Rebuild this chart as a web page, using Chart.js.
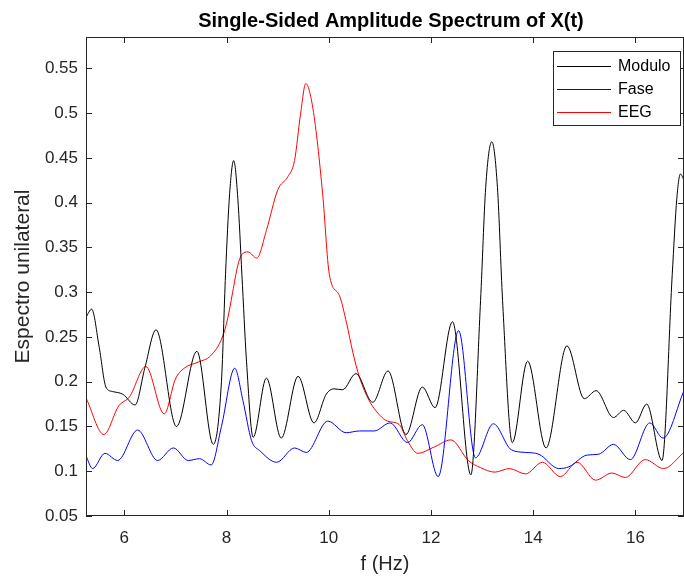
<!DOCTYPE html>
<html>
<head>
<meta charset="utf-8">
<script src="https://cdn.jsdelivr.net/npm/chart.js@4.4.1/dist/chart.umd.min.js"></script>
<style>
  body { margin: 0; background: #fff; }
  #wrap { width: 684px; height: 577px; }
</style>
</head>
<body>
<div id="wrap"><canvas id="spectrum" width="684" height="577"></canvas></div>
<script>
var xTicks = [6, 8, 10, 12, 14, 16];
var yTicks = [0.05, 0.1, 0.15, 0.2, 0.25, 0.3, 0.35, 0.4, 0.45, 0.5, 0.55];

// Modulo (black)
var moduloF = [5.25, 5.36, 5.51, 5.64, 5.77, 5.97, 6.21, 6.40, 6.62, 7.02, 7.42, 7.74, 7.90, 7.98, 8.06, 8.14,
  8.22, 8.30, 8.39, 8.52, 8.78, 9.07, 9.40, 9.71, 9.95, 10.10, 10.27, 10.53, 10.86, 11.16, 11.51, 11.83,
  12.08, 12.42, 12.78, 12.97, 13.07, 13.19, 13.30, 13.40, 13.59, 13.89, 14.25, 14.66, 15.00, 15.23, 15.57,
  15.77, 16.00, 16.22, 16.52, 16.72, 16.81, 16.88, 16.95];
var moduloA = [0.272, 0.281, 0.238, 0.194, 0.189, 0.186, 0.174, 0.215, 0.258, 0.150, 0.234, 0.130, 0.200, 0.320, 0.410, 0.447,
  0.405, 0.320, 0.223, 0.138, 0.204, 0.137, 0.206, 0.154, 0.186, 0.192, 0.191, 0.209, 0.177, 0.212, 0.141, 0.194,
  0.171, 0.267, 0.096, 0.291, 0.417, 0.468, 0.417, 0.291, 0.132, 0.223, 0.126, 0.240, 0.181, 0.190, 0.160,
  0.168, 0.154, 0.175, 0.112, 0.320, 0.405, 0.432, 0.425];

// Fase (blue)
var faseF = [5.25, 5.38, 5.62, 5.87, 6.26, 6.65, 6.96, 7.25, 7.47, 7.70, 7.90, 8.16, 8.32, 8.49, 8.65, 8.98,
  9.33, 9.56, 9.98, 10.34, 10.60, 10.89, 11.20, 11.54, 11.83, 12.14, 12.54, 12.87, 13.22, 13.57, 13.85,
  14.11, 14.50, 14.70, 15.05, 15.28, 15.57, 15.90, 16.28, 16.54, 16.95];
var faseA = [0.117, 0.103, 0.120, 0.112, 0.146, 0.112, 0.126, 0.112, 0.114, 0.107, 0.150, 0.215, 0.179, 0.134, 0.123, 0.110,
  0.126, 0.121, 0.156, 0.143, 0.145, 0.145, 0.154, 0.132, 0.152, 0.094, 0.257, 0.115, 0.153, 0.124, 0.121,
  0.119, 0.103, 0.105, 0.118, 0.119, 0.130, 0.113, 0.154, 0.137, 0.190];

// EEG (red)
var eegF = [5.25, 5.60, 5.89, 6.10, 6.42, 6.78, 7.00, 7.17, 7.45, 7.69, 7.92, 8.02, 8.12, 8.22, 8.30, 8.42,
  8.59, 8.78, 9.00, 9.20, 9.33, 9.45, 9.55, 9.69, 9.88, 10.01, 10.21, 10.35, 10.47, 10.60, 10.79, 10.99,
  11.15, 11.38, 11.54, 11.74, 12.06, 12.39, 12.73, 12.97, 13.25, 13.53, 13.85, 14.18, 14.53, 14.86, 15.22,
  15.54, 15.80, 16.19, 16.55, 16.95];
var eegA = [0.182, 0.141, 0.173, 0.183, 0.217, 0.164, 0.203, 0.215, 0.222, 0.229, 0.250, 0.270, 0.300, 0.330, 0.342, 0.345,
  0.338, 0.369, 0.414, 0.429, 0.447, 0.500, 0.533, 0.505, 0.410, 0.320, 0.296, 0.265, 0.233, 0.205, 0.179, 0.163,
  0.156, 0.152, 0.134, 0.120, 0.127, 0.135, 0.112, 0.104, 0.099, 0.103, 0.097, 0.110, 0.094, 0.110, 0.090,
  0.098, 0.093, 0.113, 0.103, 0.121];

var fontFamily = '"Liberation Sans", Arial, Helvetica, sans-serif';
var axisColor = '#262626';

var toPoints = function(f, a) {
  return f.map(function(v, i) { return {x: v, y: a[i]}; });
};

var makeSeries = function(label, f, a, color) {
  return {
    label: label,
    data: toPoints(f, a),
    borderColor: color,
    backgroundColor: color,
    borderWidth: 1,
    pointRadius: 0,
    fill: false,
    cubicInterpolationMode: 'monotone'
  };
};

// box, inward ticks, title and legend, MATLAB style
var axesFrame = {
  id: 'axesFrame',
  afterDatasetsDraw: function(chart) {
    var ctx = chart.ctx;
    var a = chart.chartArea;
    var xs = chart.scales.x;
    var ys = chart.scales.y;
    ctx.save();
    ctx.strokeStyle = axisColor;
    ctx.lineWidth = 1;
    ctx.strokeRect(a.left + 0.5, a.top + 0.5, a.right - a.left - 1, a.bottom - a.top - 1);
    ctx.beginPath();
    xTicks.forEach(function(v) {
      var px = Math.round(xs.getPixelForValue(v)) + 0.5;
      ctx.moveTo(px, a.bottom); ctx.lineTo(px, a.bottom - 6);
      ctx.moveTo(px, a.top); ctx.lineTo(px, a.top + 6);
    });
    yTicks.forEach(function(v) {
      var py = Math.round(ys.getPixelForValue(v)) + 0.5;
      ctx.moveTo(a.left, py); ctx.lineTo(a.left + 6, py);
      ctx.moveTo(a.right, py); ctx.lineTo(a.right - 6, py);
    });
    ctx.stroke();

    // title
    ctx.fillStyle = '#000';
    ctx.font = 'bold 20px ' + fontFamily;
    ctx.textAlign = 'center';
    ctx.textBaseline = 'alphabetic';
    ctx.fillText('Single-Sided Amplitude Spectrum of X(t)', (a.left + a.right) / 2 + 6, 27);

    // legend
    var bw = 127, bh = 74;
    var bx = a.right - bw - 4, by = a.top + 14;
    ctx.fillStyle = '#fff';
    ctx.fillRect(bx, by, bw, bh);
    ctx.strokeRect(bx + 0.5, by + 0.5, bw, bh);
    ctx.font = '16px ' + fontFamily;
    ctx.textAlign = 'left';
    ctx.textBaseline = 'middle';
    chart.data.datasets.forEach(function(ds, i) {
      var ry = by + 15 + i * 23;
      ctx.strokeStyle = ds.borderColor;
      ctx.beginPath();
      ctx.moveTo(bx + 4, ry + 0.5);
      ctx.lineTo(bx + 58, ry + 0.5);
      ctx.stroke();
      ctx.fillStyle = '#000';
      ctx.fillText(ds.label, bx + 65, ry + 1);
    });
    ctx.restore();
  }
};

new Chart(document.getElementById('spectrum'), {
  type: 'line',
  data: {
    datasets: [
      makeSeries('Modulo', moduloF, moduloA, '#000000'),
      makeSeries('Fase', faseF, faseA, '#0000ff'),
      makeSeries('EEG', eegF, eegA, '#ff0000')
    ]
  },
  options: {
    responsive: false,
    animation: false,
    layout: {
      padding: {top: 37, right: 0, left: 0, bottom: 0}
    },
    plugins: {
      legend: {display: false},
      title: {display: false},
      tooltip: {enabled: false}
    },
    scales: {
      x: {
        type: 'linear',
        min: 5.25,
        max: 16.95,
        afterBuildTicks: function(axis) {
          axis.ticks = xTicks.map(function(v) { return {value: v}; });
        },
        afterFit: function(axis) {
          axis.height = 61;
        },
        grid: {display: false, drawTicks: false},
        border: {display: false},
        ticks: {
          autoSkip: false,
          maxRotation: 0,
          padding: 12,
          color: axisColor,
          font: {family: fontFamily, size: 17},
          callback: function(value) { return String(value); }
        },
        title: {
          display: true,
          text: 'f (Hz)',
          color: axisColor,
          font: {family: fontFamily, size: 20},
          padding: {top: 0, bottom: 1}
        }
      },
      y: {
        type: 'linear',
        min: 0.05,
        max: 0.585,
        afterBuildTicks: function(axis) {
          axis.ticks = yTicks.map(function(v) { return {value: v}; });
        },
        afterFit: function(axis) {
          axis.width = 86;
        },
        grid: {display: false, drawTicks: false},
        border: {display: false},
        ticks: {
          autoSkip: false,
          padding: 8,
          color: axisColor,
          font: {family: fontFamily, size: 17},
          callback: function(value) { return String(value); }
        },
        title: {
          display: true,
          text: 'Espectro unilateral',
          color: axisColor,
          font: {family: fontFamily, size: 21},
          padding: {top: 11, bottom: 0}
        }
      }
    }
  },
  plugins: [axesFrame]
});
</script>
</body>
</html>
